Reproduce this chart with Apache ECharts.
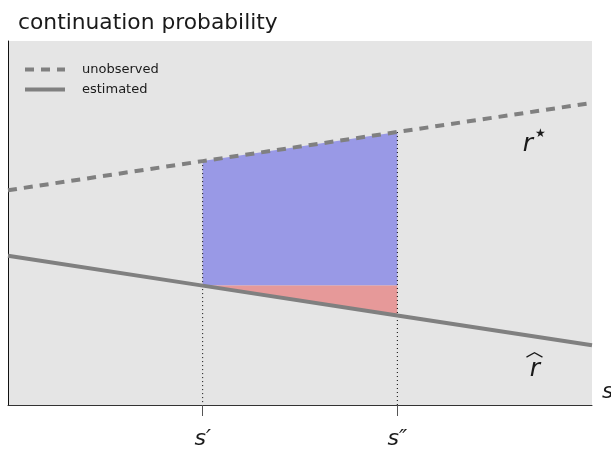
<!DOCTYPE html>
<html>
<head>
<meta charset="utf-8">
<script src="https://cdn.jsdelivr.net/npm/echarts@6/dist/echarts.min.js"></script>
<style>
  html, body { margin: 0; padding: 0; background: #ffffff; }
  #chart { width: 611px; height: 450px; }
</style>
</head>
<body>
<div id="chart"></div>
<script>
// Stopping thresholds marked on the s axis
const sPoints = [1, 2];
const sLabels = ['s\u2032', 's\u2033'];

// Continuation probability sampled along s
const sGrid = [0, 1, 2, 3];
const rStar = [0.59, 0.67, 0.75, 0.83];    // unobserved r*
const rHat  = [0.41, 0.328, 0.246, 0.164]; // estimated r-hat
const seriesNames = ['unobserved', 'estimated'];

// Curve names, anchored (in data units) at the centre of the letter r
const tagS     = [2.671, 2.707];
const tagR     = [0.7205, 0.104];
const tagMarks = ['star', 'hat'];

const FONT = 'DejaVu Sans';
const INK = '#1a1a1a';
const LINE_GREY = '#808080';

const iA = sGrid.indexOf(sPoints[0]);
const iB = sGrid.indexOf(sPoints[1]);
const base = rHat[iA];

// Shaded regions between the thresholds
const gainPoly = [
  [sPoints[0], base], [sPoints[0], rStar[iA]],
  [sPoints[1], rStar[iB]], [sPoints[1], base]
];
const lossPoly = [
  [sPoints[0], base], [sPoints[1], base], [sPoints[1], rHat[iB]]
];

function polygonSeries(pts, color) {
  return {
    type: 'custom',
    coordinateSystem: 'cartesian2d',
    silent: true,
    z: 1,
    data: [0],
    renderItem: function (params, api) {
      return {
        type: 'polygon',
        shape: { points: pts.map(function (p) { return api.coord(p); }) },
        style: { fill: color }
      };
    }
  };
}

// Dotted guides from r* down to the axis at each threshold
const guideSeries = {
  type: 'custom',
  coordinateSystem: 'cartesian2d',
  silent: true,
  z: 2,
  data: sPoints.map(function (s) { return [s, rStar[sGrid.indexOf(s)]]; }),
  renderItem: function (params, api) {
    const top = api.coord([api.value(0), api.value(1)]);
    const bottom = api.coord([api.value(0), 0]);
    return {
      type: 'line',
      shape: { x1: top[0], y1: top[1], x2: bottom[0], y2: bottom[1] },
      style: { stroke: '#000000', lineWidth: 1, lineDash: [1, 3] }
    };
  }
};

// Italic r with either a superscript star or a wide hat
const tagSeries = {
  type: 'custom',
  coordinateSystem: 'cartesian2d',
  silent: true,
  z: 4,
  data: tagS.map(function (s, i) { return [s, tagR[i], i]; }),
  renderItem: function (params, api) {
    const p = api.coord([api.value(0), api.value(1)]);
    const kind = tagMarks[api.value(2)];
    const children = [{
      type: 'text',
      x: p[0], y: p[1] + 2,
      style: {
        text: 'r', fontFamily: FONT, fontStyle: 'italic', fontSize: 25,
        fill: INK, align: 'center', verticalAlign: 'middle'
      }
    }];
    if (kind === 'star') {
      children.push({
        type: 'text',
        x: p[0] + 12.5, y: p[1] - 9,
        style: {
          text: '\u2605', fontFamily: FONT, fontSize: 12,
          fill: INK, align: 'center', verticalAlign: 'middle'
        }
      });
    } else {
      children.push({
        type: 'polyline',
        shape: { points: [[p[0] - 8.5, p[1] - 10], [p[0] - 0.5, p[1] - 14.5], [p[0] + 7.5, p[1] - 10]] },
        style: { stroke: INK, lineWidth: 1.2, fill: null }
      });
    }
    return { type: 'group', children: children };
  }
};

const chart = echarts.init(document.getElementById('chart'), null, { renderer: 'canvas' });

chart.setOption({
  animation: false,
  backgroundColor: '#ffffff',
  textStyle: { fontFamily: FONT },
  title: {
    text: 'continuation probability',
    left: 18,
    top: 12,
    padding: 0,
    textStyle: { fontFamily: FONT, fontSize: 21.8, fontWeight: 'normal', color: INK }
  },
  legend: {
    data: seriesNames,
    orient: 'vertical',
    left: 23,
    top: 63,
    padding: 0,
    itemWidth: 40,
    itemHeight: 12,
    itemGap: 7,
    itemStyle: { opacity: 0 },
    lineStyle: { width: 4 },
    textStyle: { fontFamily: FONT, fontSize: 13, color: INK, padding: [0, 0, 0, 12] }
  },
  grid: {
    left: 8, right: 19, top: 41, bottom: 43,
    show: true,
    backgroundColor: '#e5e5e5',
    borderWidth: 0
  },
  xAxis: {
    type: 'value',
    min: 0,
    max: 3,
    splitLine: { show: false },
    axisLine: { show: true, lineStyle: { color: '#333333', width: 1 } },
    axisTick: {
      show: true,
      customValues: sPoints,
      length: 11,
      lineStyle: { color: '#555555', width: 1 }
    },
    axisLabel: {
      show: true,
      customValues: sPoints,
      margin: 23,
      formatter: function (v) { return sLabels[sPoints.indexOf(v)]; },
      fontFamily: FONT,
      fontStyle: 'italic',
      fontSize: 22,
      color: INK
    }
  },
  yAxis: {
    type: 'value',
    min: 0,
    max: 1,
    splitLine: { show: false },
    axisLine: { show: true, lineStyle: { color: '#111111', width: 1 } },
    axisTick: { show: false },
    axisLabel: { show: false }
  },
  graphic: [
    {
      type: 'text',
      left: 602,
      top: 381,
      style: { text: 's', fontFamily: FONT, fontStyle: 'italic', fontSize: 22, fill: INK }
    }
  ],
  series: [
    polygonSeries(gainPoly, '#9999e6'),
    polygonSeries(lossPoly, '#e69999'),
    guideSeries,
    {
      name: seriesNames[0],
      type: 'line',
      z: 3,
      symbol: 'none',
      silent: true,
      data: sGrid.map(function (s, i) { return [s, rStar[i]]; }),
      lineStyle: { color: LINE_GREY, width: 4, type: [9, 7] },
      itemStyle: { color: LINE_GREY }
    },
    {
      name: seriesNames[1],
      type: 'line',
      z: 3,
      symbol: 'none',
      silent: true,
      data: sGrid.map(function (s, i) { return [s, rHat[i]]; }),
      lineStyle: { color: LINE_GREY, width: 4, type: 'solid' },
      itemStyle: { color: LINE_GREY }
    },
    tagSeries
  ]
});
</script>
</body>
</html>
